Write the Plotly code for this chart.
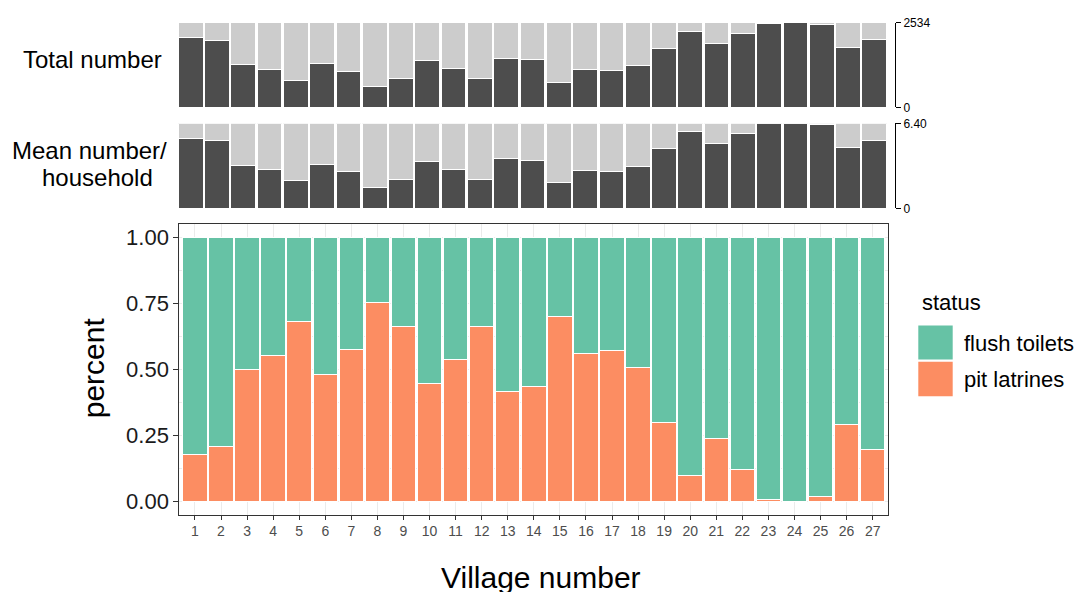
import plotly.graph_objects as go

# ---------------- data ----------------
villages = list(range(1, 28))
pit_latrines = [0.178, 0.208, 0.499, 0.551, 0.680, 0.480, 0.574, 0.753, 0.662, 0.448,
                0.536, 0.662, 0.415, 0.433, 0.701, 0.559, 0.572, 0.507, 0.298, 0.098,
                0.238, 0.120, 0.006, 0.000, 0.019, 0.290, 0.197]
flush_toilets = [round(1 - p, 3) for p in pit_latrines]

total_number = [2088, 1997, 1272, 1143, 816, 1313, 1074, 626, 854, 1401,
                1173, 854, 1480, 1432, 755, 1123, 1092, 1242, 1779, 2286,
                1928, 2225, 2514, 2534, 2483, 1799, 2027]
mean_household = [5.28, 5.08, 3.24, 2.89, 2.07, 3.33, 2.74, 1.59, 2.17, 3.54,
                  2.96, 2.17, 3.76, 3.64, 1.92, 2.84, 2.74, 3.16, 4.53, 5.78,
                  4.88, 5.63, 6.35, 6.40, 6.28, 4.56, 5.13]
total_max = 2534
mean_max = 6.40
total_rest = [total_max - v for v in total_number]
mean_rest = [round(mean_max - v, 2) for v in mean_household]

# ---------------- layout helpers ----------------
W, H = 1074, 592
FIG_H = 600  # the page is captured slightly taller than the design height
def X(px):
    return px / W
def Y(py):
    return 1 - py / H

TEAL = "#66C2A5"
ORANGE = "#FC8D62"
DARK = "#4D4D4D"
LIGHT = "#CCCCCC"
FONT = "Liberation Sans, Arial, sans-serif"

fig = go.Figure()

line_white = dict(color="white", width=1)

# top panel: total number
fig.add_trace(go.Bar(x=villages, y=total_number, marker=dict(color=DARK, line=line_white),
                     xaxis="x2", yaxis="y2", showlegend=False, hoverinfo="x+y"))
fig.add_trace(go.Bar(x=villages, y=total_rest, marker=dict(color=LIGHT, line=line_white),
                     xaxis="x2", yaxis="y2", showlegend=False, hoverinfo="skip"))
# middle panel: mean number per household
fig.add_trace(go.Bar(x=villages, y=mean_household, marker=dict(color=DARK, line=line_white),
                     xaxis="x3", yaxis="y3", showlegend=False, hoverinfo="x+y"))
fig.add_trace(go.Bar(x=villages, y=mean_rest, marker=dict(color=LIGHT, line=line_white),
                     xaxis="x3", yaxis="y3", showlegend=False, hoverinfo="skip"))
# main panel
fig.add_trace(go.Bar(x=villages, y=pit_latrines, name="pit latrines",
                     marker=dict(color=ORANGE, line=line_white), showlegend=False))
fig.add_trace(go.Bar(x=villages, y=flush_toilets, name="flush toilets",
                     marker=dict(color=TEAL, line=line_white), showlegend=False))

grid = "#EBEBEB"
border = "#333333"

fig.update_layout(
    width=W, height=FIG_H,
    margin=dict(l=0, r=0, t=0, b=0),
    paper_bgcolor="white", plot_bgcolor="white",
    barmode="stack", bargap=0.06,
    font=dict(family=FONT, color="black"),
    xaxis=dict(domain=[X(179.3), X(888.3)], range=[0.4, 27.6],
               tickvals=villages, ticktext=[str(v) for v in villages],
               ticks="outside", ticklen=4, tickcolor=border, tickwidth=1,
               tickfont=dict(size=14, color="#4D4D4D"),
               showgrid=True, gridcolor=grid, gridwidth=1,
               showline=True, linecolor=border, linewidth=1, mirror=True,
               zeroline=False, anchor="y"),
    yaxis=dict(domain=[Y(512.7), Y(219.3)], range=[-0.05, 1.05],
               tickvals=[0, 0.25, 0.5, 0.75, 1.0],
               ticktext=["0.00", "0.25", "0.50", "0.75", "1.00"],
               ticks="outside", ticklen=5, tickcolor=border, tickwidth=1,
               tickfont=dict(size=22, color="#1A1A1A"),
               showgrid=True, gridcolor=grid, gridwidth=1,
               minor=dict(dtick=0.125, tick0=0, showgrid=True, gridcolor=grid, gridwidth=0.6),
               showline=True, linecolor=border, linewidth=1, mirror=True,
               zeroline=False, anchor="x"),
    xaxis2=dict(domain=[X(177.5), X(887.5)], range=[0.5, 27.5], visible=False, anchor="y2"),
    yaxis2=dict(domain=[Y(101.5), Y(16)], range=[0, total_max],
                anchor="free", position=X(895), side="right",
                tickvals=[0, total_max], ticktext=["0", "2534"],
                ticks="outside", ticklen=5, tickcolor="black", tickwidth=1,
                tickfont=dict(size=12, color="black"),
                showline=True, linecolor="black", linewidth=1,
                showgrid=False, zeroline=False),
    xaxis3=dict(domain=[X(177.5), X(887.5)], range=[0.5, 27.5], visible=False, anchor="y3"),
    yaxis3=dict(domain=[Y(203.5), Y(117.5)], range=[0, mean_max],
                anchor="free", position=X(895), side="right",
                tickvals=[0, mean_max], ticktext=["0", "6.40"],
                ticks="outside", ticklen=5, tickcolor="black", tickwidth=1,
                tickfont=dict(size=12, color="black"),
                showline=True, linecolor="black", linewidth=1,
                showgrid=False, zeroline=False),
)

ann = []
def add_text(text, x, y, size, xanchor="center", angle=0, color="black"):
    ann.append(dict(text=text, x=X(x), y=Y(y), xref="paper", yref="paper",
                    xanchor=xanchor, yanchor="middle", showarrow=False,
                    textangle=angle, font=dict(size=size, color=color, family=FONT)))

add_text("Total number", 92, 53, 24)
add_text("Mean number/", 89, 145, 24)
add_text("household", 97, 172, 24)
add_text("percent", 93, 365, 30, angle=-90)
add_text("Village number", 541, 576, 30)
# legend
add_text("status", 920, 299, 22, xanchor="left")
add_text("flush toilets", 962, 340, 22, xanchor="left")
add_text("pit latrines", 962, 376, 22, xanchor="left")

shapes = [
    dict(type="rect", xref="paper", yref="paper", x0=X(918.3), x1=X(952.7), y0=Y(356), y1=Y(321.7),
         fillcolor=TEAL, line=dict(width=0)),
    dict(type="rect", xref="paper", yref="paper", x0=X(918.3), x1=X(952.7), y0=Y(393.3), y1=Y(358.3),
         fillcolor=ORANGE, line=dict(width=0)),
]
fig.update_layout(annotations=ann, shapes=shapes)

fig.write_html("out.html", config={"displayModeBar": False},
               post_script="document.body.style.margin='0px';document.body.style.overflow='hidden';")
